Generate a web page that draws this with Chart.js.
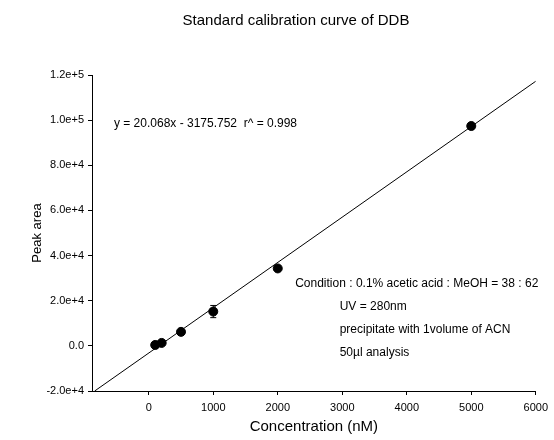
<!DOCTYPE html>
<html>
<head>
<meta charset="utf-8">
<script src="https://cdn.jsdelivr.net/npm/chart.js@4.4.1/dist/chart.umd.min.js"></script>
<style>
  html, body { margin: 0; padding: 0; background: #fff; }
  #wrap { width: 554px; height: 440px; }
</style>
</head>
<body>
<div id="wrap"><canvas id="cal" width="554" height="440"></canvas></div>
<script>
// Standard calibration curve — DDB
const concentrations = [100, 200, 500, 1000, 2000, 5000];
const peakAreas = [400, 1300, 6200, 15200, 34300, 97400];
const peakErrors = [400, 500, 600, 2700, 900, 900];
const fitSlope = 20.068;
const fitIntercept = -3175.752;
const xTicks = [0, 1000, 2000, 3000, 4000, 5000, 6000];
const yTicks = [-20000, 0, 20000, 40000, 60000, 80000, 100000, 120000];
const xRange = [-880, 6000];
const yRange = [-20000, 120000];

const notes = [
    { x: -540, y: 98400, size: 12, text: 'y = 20.068x - 3175.752  r^ = 0.998' },
    { x: 2270, y: 27600, size: 12, text: 'Condition : 0.1% acetic acid : MeOH = 38 : 62' },
    { x: 2960, y: 17400, size: 12, text: 'UV = 280nm' },
    { x: 2960, y: 7200, size: 12, text: 'precipitate with 1volume of ACN' },
    { x: 2960, y: -3000, size: 12, text: '50\u00b5l analysis' }
];

const ink = '#000';
const font = 'Liberation Sans, Arial, sans-serif';

// fitted line from the regression equation, starting where it meets the bottom axis
const fitStart = (yRange[0] - fitIntercept) / fitSlope;
const fitLine = [fitStart, xRange[1]].map(x => ({ x, y: fitSlope * x + fitIntercept }));

const errorBars = {
    id: 'errorBars',
    afterDatasetsDraw(chart) {
        const { ctx, scales: { x, y } } = chart;
        ctx.save();
        ctx.strokeStyle = ink;
        ctx.lineWidth = 1;
        concentrations.forEach((c, i) => {
            const px = x.getPixelForValue(c);
            const top = y.getPixelForValue(peakAreas[i] + peakErrors[i]);
            const bot = y.getPixelForValue(peakAreas[i] - peakErrors[i]);
            ctx.beginPath();
            ctx.moveTo(px, top); ctx.lineTo(px, bot);
            ctx.moveTo(px - 3, top); ctx.lineTo(px + 3, top);
            ctx.moveTo(px - 3, bot); ctx.lineTo(px + 3, bot);
            ctx.stroke();
        });
        ctx.restore();
    }
};

const textNotes = {
    id: 'textNotes',
    afterDraw(chart) {
        const { ctx, scales: { x, y } } = chart;
        ctx.save();
        ctx.fillStyle = ink;
        ctx.textBaseline = 'middle';
        ctx.textAlign = 'left';
        notes.forEach(n => {
            ctx.font = n.size + 'px ' + font;
            ctx.fillText(n.text, x.getPixelForValue(n.x), y.getPixelForValue(n.y));
        });
        // chart title
        ctx.font = '15px ' + font;
        ctx.textAlign = 'center';
        ctx.fillText('Standard calibration curve of DDB', 296, 21);
        ctx.restore();
    }
};

new Chart(document.getElementById('cal'), {
    type: 'scatter',
    data: {
        datasets: [
            {
                type: 'line',
                data: fitLine,
                borderColor: ink,
                borderWidth: 1,
                pointRadius: 0,
                fill: false
            },
            {
                data: concentrations.map((c, i) => ({ x: c, y: peakAreas[i] })),
                backgroundColor: ink,
                borderColor: ink,
                pointRadius: 4.5
            }
        ]
    },
    options: {
        responsive: false,
        animation: false,
        layout: { padding: { top: 75, right: 14, left: 26, bottom: 0 } },
        plugins: { legend: { display: false }, tooltip: { enabled: false } },
        scales: {
            x: {
                type: 'linear',
                min: xRange[0], max: xRange[1],
                afterBuildTicks: s => { s.ticks = xTicks.map(v => ({ value: v })); },
                afterFit: s => { s.height = 49; },
                grid: { drawOnChartArea: false, drawTicks: true, tickLength: 4, color: ink },
                border: { color: ink, width: 1 },
                ticks: { color: ink, font: { family: font, size: 11 }, padding: 6, maxRotation: 0, callback: v => String(v) },
                title: { display: true, text: 'Concentration (nM)', color: ink, font: { family: font, size: 15 }, padding: { top: 0 } }
            },
            y: {
                type: 'linear',
                min: yRange[0], max: yRange[1],
                afterBuildTicks: s => { s.ticks = yTicks.map(v => ({ value: v })); },
                afterFit: s => { s.width = 66; },
                grid: { drawOnChartArea: false, drawTicks: true, tickLength: 4, color: ink },
                border: { color: ink, width: 1 },
                ticks: {
                    color: ink, font: { family: font, size: 11 }, padding: 4,
                    callback: v => v === 0 ? '0.0' : v.toExponential(1)
                },
                title: { display: true, text: 'Peak area', color: ink, font: { family: font, size: 13 } }
            }
        }
    },
    plugins: [errorBars, textNotes]
});
</script>
</body>
</html>
